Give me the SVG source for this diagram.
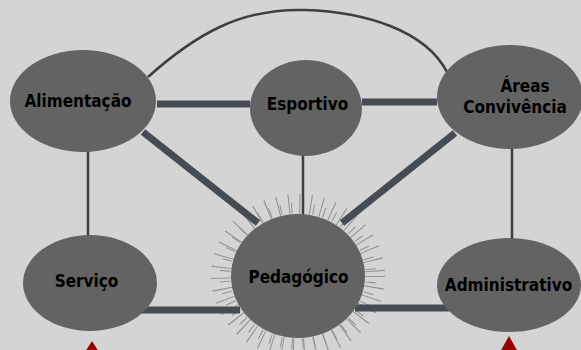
<svg xmlns="http://www.w3.org/2000/svg" width="581" height="350" viewBox="0 0 581 350">
<style>
.node{fill:#636363;}
.lbl{font-family:'DejaVu Sans Condensed','DejaVu Sans',sans-serif;font-stretch:condensed;font-weight:bold;font-size:17px;fill:#000;text-anchor:middle;}
.thick{stroke:#464c53;stroke-width:7;fill:none;}
.thin{stroke:#3f3f3f;stroke-width:2.5;fill:none;}
.ray{fill:none;stroke:#8f8f8f;}
</style>
<rect x="0" y="0" width="581" height="350" fill="#d4d4d4"/>
<g id="rays">
<ellipse class="ray" cx="298" cy="276" rx="77" ry="72" stroke-width="20" stroke-dasharray="1 10"/>
<ellipse class="ray" cx="298" cy="276" rx="73" ry="68" stroke-width="10" stroke-dasharray="1 10" stroke-dashoffset="5"/>
</g>
<g id="connectors">
<path class="thin" d="M148,77 C195,35 240,8 305,10 C365,12 425,30 447,72" stroke-width="2"/>
<line class="thick" x1="157" y1="104" x2="250" y2="104"/>
<line class="thick" x1="362" y1="102" x2="437" y2="102"/>
<line class="thick" x1="143" y1="132" x2="258" y2="223"/>
<line class="thick" x1="455" y1="133" x2="342" y2="223"/>
<line class="thick" x1="140" y1="310" x2="240" y2="310"/>
<line class="thick" x1="355" y1="308" x2="450" y2="308"/>
<line class="thin" x1="88" y1="150" x2="88" y2="238"/>
<line class="thin" x1="303" y1="153" x2="303" y2="216"/>
<line class="thin" x1="512" y1="148" x2="512" y2="240"/>
</g>
<g id="alimentacao">
<ellipse class="node" cx="83" cy="101" rx="73" ry="51"/>
<text class="lbl" x="78" y="107">Alimentação</text>
</g>
<g id="esportivo">
<ellipse class="node" cx="306" cy="108" rx="56" ry="48"/>
<text class="lbl" x="307.5" y="110">Esportivo</text>
</g>
<g id="areas">
<ellipse class="node" cx="510" cy="97" rx="73" ry="52"/>
<text class="lbl" x="525" y="92">Áreas</text>
<text class="lbl" x="515" y="113">Convivência</text>
</g>
<g id="servico">
<ellipse class="node" cx="90" cy="283" rx="67" ry="48"/>
<text class="lbl" x="86.5" y="287">Serviço</text>
</g>
<g id="pedagogico">
<ellipse class="node" cx="298" cy="276" rx="67" ry="62"/>
<text class="lbl" x="298.5" y="283">Pedagógico</text>
</g>
<g id="administrativo">
<ellipse class="node" cx="509" cy="285" rx="72" ry="47"/>
<text class="lbl" x="508.5" y="291">Administrativo</text>
</g>
<g id="markers">
<polygon points="92,341 85,352 99,352" fill="#9b0000"/>
<polygon points="509,336 500,352 518,352" fill="#9b0000"/>
</g>
</svg>
